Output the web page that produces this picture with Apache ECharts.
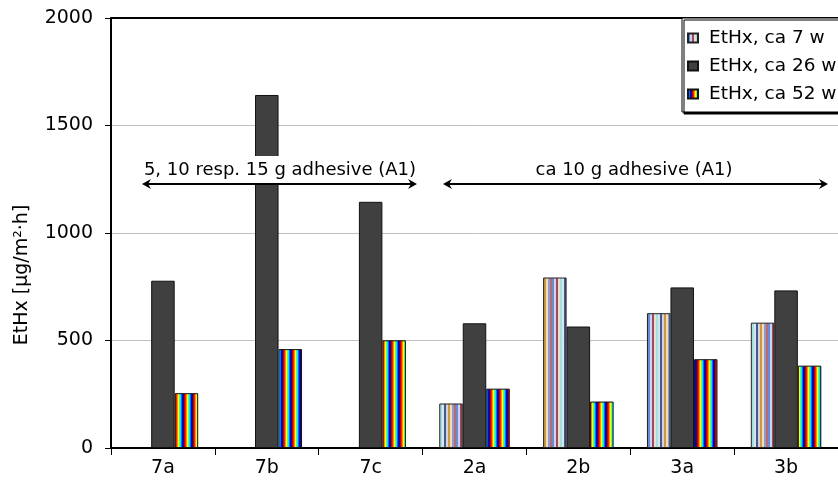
<!DOCTYPE html>
<html><head><meta charset="utf-8">
<script src="https://cdn.jsdelivr.net/npm/echarts@6/dist/echarts.min.js"></script>
<style>html,body{margin:0;padding:0;background:#fff}#c{width:838px;height:499px}</style>
</head><body><div id="c"></div>
<script>
const categories = ['7a','7b','7c','2a','2b','3a','3b'];
const seriesNames = ['EtHx, ca 7 w','EtHx, ca 26 w','EtHx, ca 52 w'];
const w7 = [null,null,null,207,793,627,583];
const w26 = [778,1642,1145,580,565,747,733];
const w52 = [255,460,501,276,216,413,383];
const yTicks = {min:0,max:2000,interval:500};
const yTitle = 'EtHx [µg/m²·h]';
const noteLeft = '5, 10 resp. 15 g adhesive (A1)';
const noteRight = 'ca 10 g adhesive (A1)';

function stripes(colors, w){
  const c=document.createElement('canvas'); c.width=colors.length*w; c.height=4;
  const ctx=c.getContext('2d');
  colors.forEach((col,i)=>{ctx.fillStyle=col;ctx.fillRect(i*w,0,w,4);});
  return c;
}
const pastel = stripes(['#6a8ad8','#c4d6f0','#a24a5c','#e8ded4','#a4e0dc','#d8e4ee','#46588e','#d4d4de','#d0983e','#ecdcc0','#8a9ccc','#b86a70'],2);
const rainbow = stripes(['#00e8ff','#0070ff','#0000e0','#200070','#c00000','#ff2000','#ff9000','#ffff00','#60ff60'],1);

const FONT='DejaVu Sans';
const chart = echarts.init(document.getElementById('c'),null,{renderer:'canvas'});
const bw = 23.5;
chart.setOption({
  animation:false,
  textStyle:{fontFamily:FONT},
  grid:{left:111,top:18,width:735,height:430,containLabel:false},
  legend:{
    orient:'vertical', left:682, top:18, itemWidth:10, itemHeight:9, itemGap:8,
    padding:[10,20,8,5], backgroundColor:'#fff', borderColor:'#000', borderWidth:1,
    shadowColor:'#000', shadowOffsetX:2, shadowOffsetY:2, shadowBlur:0, z:50,
    icon:'rect',
    textStyle:{fontFamily:FONT,fontSize:18.5,color:'#000',lineHeight:20,padding:[0,0,0,6]},
    data:seriesNames
  },
  xAxis:[{
    type:'category', data:categories,
    axisLine:{lineStyle:{color:'#000',width:2}},
    axisTick:{show:true,length:7,lineStyle:{color:'#000',width:1}},
    axisLabel:{color:'#000',fontSize:19,fontFamily:FONT,margin:11}
  },{
    type:'category', data:categories, position:'top',
    axisLine:{lineStyle:{color:'#000',width:2}},
    axisTick:{show:false}, axisLabel:{show:false}
  }],
  yAxis:{
    type:'value', min:yTicks.min, max:yTicks.max, interval:yTicks.interval,
    axisLine:{show:true,lineStyle:{color:'#000',width:2}},
    axisTick:{show:true,length:6,lineStyle:{color:'#000',width:1}},
    splitLine:{lineStyle:{color:'#c0c0c0',width:1}},
    axisLabel:{color:'#000',fontSize:19,fontFamily:FONT,margin:18,formatter:v=>String(v)}
  },
  series:[
    {name:seriesNames[0],type:'bar',data:w7,barWidth:bw,barGap:'0%',
     itemStyle:{color:{image:pastel,repeat:'repeat'},borderColor:'#222',borderWidth:1}},
    {name:seriesNames[1],type:'bar',data:w26,barWidth:bw,barGap:'0%',
     itemStyle:{color:'#404040',borderColor:'#111',borderWidth:1}},
    {name:seriesNames[2],type:'bar',data:w52,barWidth:bw,barGap:'0%',
     itemStyle:{color:{image:rainbow,repeat:'repeat'},borderColor:'#111',borderWidth:1}}
  ]
});

function arrowHead(tipX, y, dir){
  const L=9, H=5, N=3;
  return {type:'polygon', z:101, shape:{points:[[tipX,y],[tipX-dir*L,y-H],[tipX-dir*(L-N),y],[tipX-dir*L,y+H]]}, style:{fill:'#000'}};
}
function arrow(x1,x2,y){
  return [
    {type:'line', z:101, shape:{x1:x1+3,y1:y,x2:x2-3,y2:y}, style:{stroke:'#000',lineWidth:2}},
    arrowHead(x1,y,-1), arrowHead(x2,y,1)
  ];
}
const ay = 184;
chart.setOption({graphic:[
  {type:'text', z:100, x:22, y:275, rotation:Math.PI/2,
   style:{text:yTitle, font:'19px "DejaVu Sans"', fill:'#000', align:'center', verticalAlign:'middle'}},
  {type:'text', z:100, x:280, y:170,
   style:{text:noteLeft, font:'18px "DejaVu Sans"', fill:'#000', align:'center', verticalAlign:'middle', backgroundColor:'#fff', padding:[6,2,4,2]}},
  {type:'text', z:100, x:634, y:170,
   style:{text:noteRight, font:'18px "DejaVu Sans"', fill:'#000', align:'center', verticalAlign:'middle', backgroundColor:'#fff', padding:[6,2,4,2]}},
  ...arrow(142,417,ay),
  ...arrow(443,828,ay)
]});
</script></body></html>
